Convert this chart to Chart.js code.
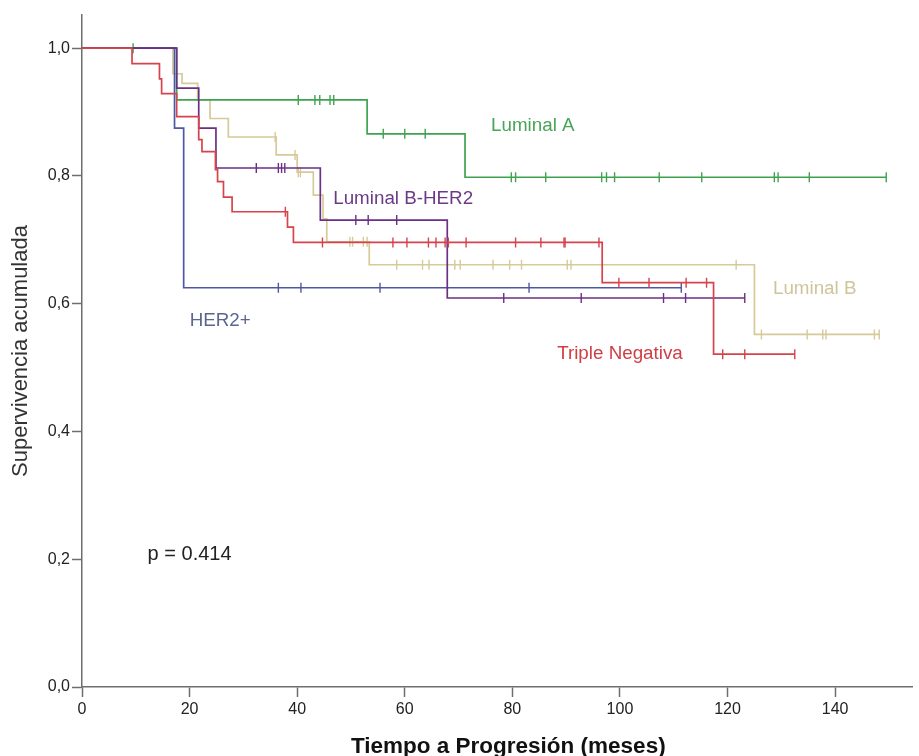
<!DOCTYPE html>
<html>
<head>
<meta charset="utf-8">
<script src="https://cdn.jsdelivr.net/npm/chart.js@4.4.1/dist/chart.umd.min.js"></script>
<style>
  html, body { margin: 0; padding: 0; background: #fff; }
  #wrap { width: 919px; height: 756px; }
</style>
</head>
<body>
<div id="wrap"><canvas id="km" width="919" height="756"></canvas></div>
<script>
// Kaplan-Meier: time to progression by subtype
const xTicks = [0, 20, 40, 60, 80, 100, 120, 140];
const yTicks = [0, 0.2, 0.4, 0.6, 0.8, 1.0];

// event times (months) and survival after each step
const lumATimes = [17.6, 53.0, 71.2];
const lumASurv = [0.919, 0.866, 0.798];
const lumACensor = [9.5, 40.2, 43.3, 44.2, 46.1, 46.8, 56.0, 60.0, 63.8, 79.8, 80.6, 86.2,
  96.6, 97.5, 99.0, 107.3, 115.2, 128.7, 129.4, 135.2, 149.5];

const her2Times = [17.2, 18.9];
const her2Surv = [0.875, 0.625];
const her2Censor = [36.5, 40.7, 55.4, 83.1, 111.4];

const lumBHer2Times = [17.6, 21.7, 24.9, 44.3, 67.9];
const lumBHer2Surv = [0.9375, 0.875, 0.8125, 0.731, 0.609];
const lumBHer2Censor = [32.4, 36.5, 37.1, 37.7, 50.9, 53.2, 58.5, 78.4, 92.8, 108.1, 112.2, 123.2];

const lumBTimes = [16.9, 18.6, 21.5, 23.8, 27.2, 36.1, 40.0, 43.0, 44.8, 45.5, 53.4, 125.0];
const lumBSurv = [0.96, 0.945, 0.919, 0.89, 0.861, 0.833, 0.806, 0.77, 0.733, 0.697, 0.661, 0.552];
const lumBCensor = [35.9, 39.6, 40.2, 40.6, 49.8, 50.3, 52.3, 53.0, 58.5, 63.3, 64.5, 69.3, 70.3,
  76.4, 79.5, 81.7, 90.2, 90.9, 121.6, 126.3, 134.8, 137.7, 138.3, 147.3, 148.2];

const tnTimes = [9.3, 14.4, 14.8, 17.6, 21.7, 22.3, 24.8, 25.2, 26.3, 27.9, 38.2, 39.3, 96.7, 117.4];
const tnSurv = [0.976, 0.952, 0.929, 0.893, 0.857, 0.838, 0.81, 0.791, 0.767, 0.744, 0.72, 0.696, 0.633, 0.521];
const tnCensor = [37.8, 44.7, 57.8, 60.4, 64.4, 65.8, 67.5, 68.1, 71.4, 80.6, 85.3, 89.6, 89.8,
  96.1, 99.8, 105.4, 112.3, 116.1, 119.1, 123.2, 132.5];

const groups = [
  { name: 'Triple Negativa', times: tnTimes, surv: tnSurv, censor: tnCensor, color: '#d6434b', text: '#cf3f45', lx: 100, ly: 0.521 },
  { name: 'Luminal B-HER2', times: lumBHer2Times, surv: lumBHer2Surv, censor: lumBHer2Censor, color: '#6b2f85', text: '#6b3a86', lx: 59.7, ly: 0.765 },
  { name: 'HER2+', times: her2Times, surv: her2Surv, censor: her2Censor, color: '#4d58a5', text: '#5b6690', lx: 25.7, ly: 0.574 },
  { name: 'Luminal A', times: lumATimes, surv: lumASurv, censor: lumACensor, color: '#3fa34d', text: '#48a557', lx: 83.8, ly: 0.878 },
  { name: 'Luminal B', times: lumBTimes, surv: lumBSurv, censor: lumBCensor, color: '#d5ca98', text: '#cfc59b', lx: 136.2, ly: 0.624 }
];

function survivalAt(times, surv, t) {
  let s = 1;
  for (let i = 0; i < times.length; i++) {
    if (times[i] <= t) s = surv[i];
  }
  return s;
}

const datasets = [];
groups.forEach((g, i) => {
  const pts = [{ x: 0, y: 1 }];
  g.times.forEach((t, k) => pts.push({ x: t, y: g.surv[k] }));
  const end = Math.max(g.times[g.times.length - 1], g.censor[g.censor.length - 1]);
  pts.push({ x: end, y: g.surv[g.surv.length - 1] });
  datasets.push({
    label: g.name,
    data: pts,
    showLine: true,
    stepped: 'before',
    borderColor: g.color,
    borderWidth: 1.7,
    pointRadius: 0,
    order: i * 2 + 1
  });
  datasets.push({
    label: g.name + ' censurado',
    data: g.censor.map(t => ({ x: t, y: survivalAt(g.times, g.surv, t) })),
    showLine: false,
    pointStyle: 'line',
    rotation: 90,
    pointRadius: 5,
    borderColor: g.color,
    backgroundColor: g.color,
    pointBorderWidth: 1.4,
    order: i * 2
  });
});

// group labels, p-value and the x title
const labelPlugin = {
  id: 'kmLabels',
  afterDatasetsDraw(chart) {
    const { ctx, chartArea, scales: { x, y } } = chart;
    ctx.save();
    ctx.textAlign = 'center';
    ctx.textBaseline = 'middle';
    ctx.font = '18.8px "Liberation Sans", Arial, sans-serif';
    groups.forEach(g => {
      ctx.fillStyle = g.text;
      ctx.fillText(g.name, x.getPixelForValue(g.lx), y.getPixelForValue(g.ly));
    });
    ctx.font = '20px "Liberation Sans", Arial, sans-serif';
    ctx.fillStyle = '#222';
    ctx.fillText('p = 0.414', x.getPixelForValue(20.0), y.getPixelForValue(0.207));

    ctx.font = 'bold 22.5px "Liberation Sans", Arial, sans-serif';
    ctx.fillStyle = '#111';
    ctx.fillText('Tiempo a Progresión (meses)', (chartArea.left + chartArea.right) / 2 + 11, chartArea.bottom + 60);
    ctx.restore();
  }
};

new Chart(document.getElementById('km'), {
  type: 'scatter',
  data: { datasets: datasets },
  options: {
    responsive: false,
    animation: false,
    layout: { padding: { top: 15, right: 0, left: 0, bottom: 0 } },
    plugins: { legend: { display: false }, tooltip: { enabled: false } },
    scales: {
      x: {
        type: 'linear',
        min: 0,
        max: 154.4,
        afterBuildTicks: s => { s.ticks = xTicks.map(v => ({ value: v })); },
        afterFit: s => { s.height = 69; },
        ticks: { color: '#222', padding: 3, font: { size: 16, family: '"Liberation Sans", Arial' } },
        grid: { drawOnChartArea: false, tickLength: 10, color: '#6e6e6e', tickWidth: 1.5 },
        border: { color: '#6e6e6e', width: 1.5 }
      },
      y: {
        min: 0,
        max: 1.052,
        afterBuildTicks: s => { s.ticks = yTicks.map(v => ({ value: v })); },
        afterFit: s => { s.width = 82; },
        ticks: {
          color: '#222',
          padding: 2,
          font: { size: 16, family: '"Liberation Sans", Arial' },
          callback: v => v.toFixed(1).replace('.', ',')
        },
        grid: { drawOnChartArea: false, tickLength: 10, color: '#6e6e6e', tickWidth: 1.5 },
        border: { color: '#6e6e6e', width: 1.5 },
        title: {
          display: true,
          text: 'Supervivencia acumulada',
          color: '#333',
          font: { size: 22, family: '"Liberation Sans", Arial', lineHeight: 1 },
          padding: { top: 10, bottom: 0 }
        }
      }
    }
  },
  plugins: [labelPlugin]
});
</script>
</body>
</html>
